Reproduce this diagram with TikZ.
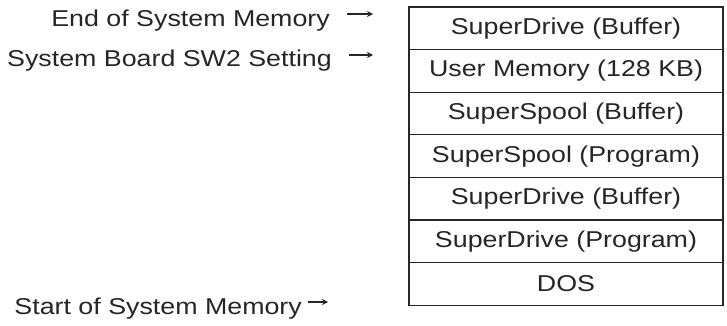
\documentclass[tikz,border=0pt]{standalone}
\usepackage{fontspec}
\setmainfont{Liberation Sans}[FakeStretch=1.17]
\usetikzlibrary{positioning,arrows.meta}

\begin{document}
\begin{tikzpicture}[x=1pt,y=1pt,
  font=\fontsize{22.9}{26}\selectfont,
  memrow/.style={draw=black!85,line width=1.1pt,text=black!85,
    minimum width=314pt,minimum height=42.6pt,inner sep=0pt,outer sep=0pt},
  memlabel/.style={text=black!85,inner sep=0pt,anchor=base east},
  memarrow/.style={draw=black!85,line width=1.4pt,-{Stealth[length=6pt,width=6pt]}}]
  \useasboundingbox[fill=white] (0,0) rectangle (727,326);

  % Memory map
  \node[memrow] (drvbuftop) at (566,297.7) {SuperDrive (Buffer)};
  \node[memrow,below=0pt of drvbuftop] (usermem) {User Memory (128 KB)};
  \node[memrow,below=0pt of usermem]   (spoolbuf) {SuperSpool (Buffer)};
  \node[memrow,below=0pt of spoolbuf]  (spoolprg) {SuperSpool (Program)};
  \node[memrow,below=0pt of spoolprg]  (drvbuf) {SuperDrive (Buffer)};
  \node[memrow,below=0pt of drvbuf]    (drvprg) {SuperDrive (Program)};
  \node[memrow,below=0pt of drvprg]    (dos) {DOS};

  % Labels
  \node[memlabel] (endlbl)   at (330,299) {End of System Memory};
  \node[memlabel] (sw2lbl)   at (332,259) {System Board SW2 Setting};
  \node[memlabel] (startlbl) at (302,11)  {Start of System Memory};

  % Arrows
  \coordinate (endtail)   at (347,312);
  \coordinate (endtip)    at (373,312);
  \coordinate (sw2tail)   at (349,271);
  \coordinate (sw2tip)    at (373,271);
  \coordinate (starttail) at (308,24);
  \coordinate (starttip)  at (328,24);
  \draw[memarrow] (endtail) -- (endtip);
  \draw[memarrow] (sw2tail) -- (sw2tip);
  \draw[memarrow] (starttail) -- (starttip);
\end{tikzpicture}
\end{document}
